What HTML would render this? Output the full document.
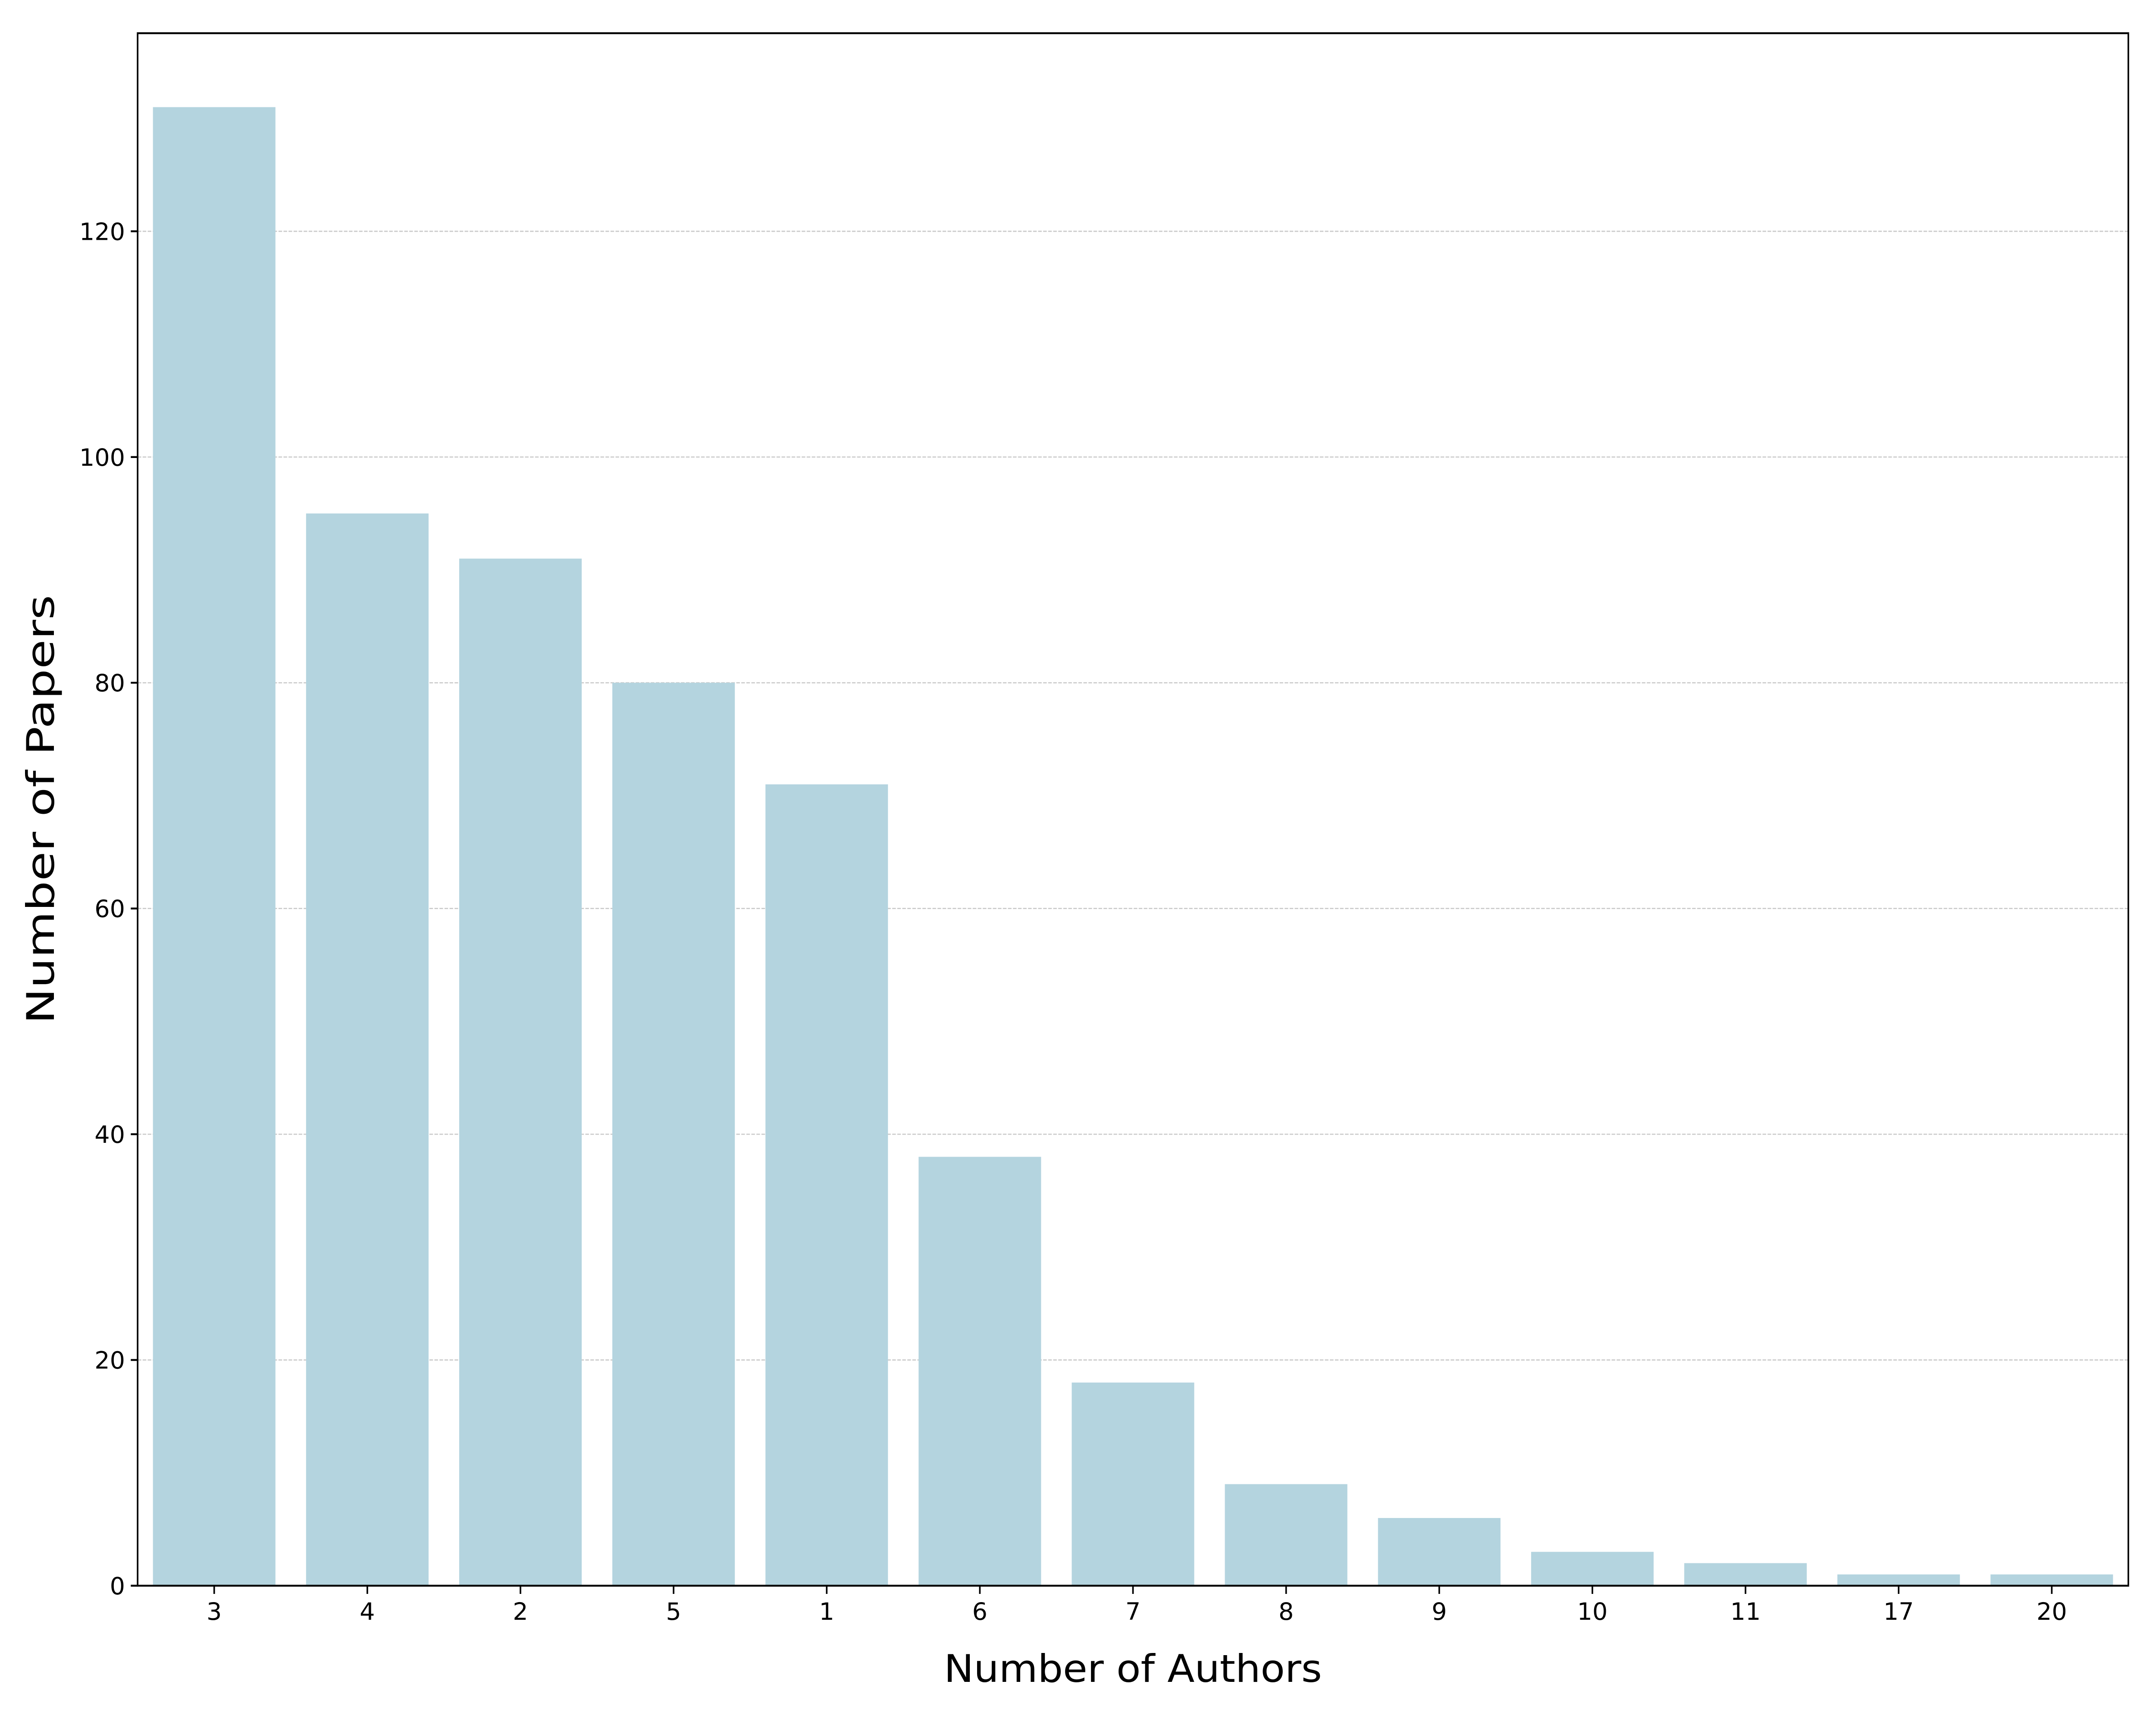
<!DOCTYPE html>
<html><head><meta charset="utf-8"><style>html,body{margin:0;padding:0;background:#fff;overflow:hidden;width:100%;height:100%}svg{display:block;width:100vw;height:100vh}text{font-family:"DejaVu Sans","Liberation Sans",sans-serif;fill:#000}</style></head>
<body>
<svg id="chart" viewBox="0 0 6000 4000" preserveAspectRatio="none" xmlns="http://www.w3.org/2000/svg">
<rect width="6000" height="4000" fill="#fff"/>
<g id="grid"></g><g id="bars"></g><g id="axes"></g>
</svg>
<script>
const categories = ["3","4","2","5","1","6","7","8","9","10","11","17","20"];
const values = [131,95,91,80,71,38,18,9,6,3,2,1,1];
const yTicks = [0,20,40,60,80,100,120];
const L=383,R=5923,T=77,B=3677,YMAX=137.55;
const NS="http://www.w3.org/2000/svg";
const vw=window.innerWidth||6000, vh=window.innerHeight||4000;
const K=(vh/4000)/(vw/6000); // horizontal compensation for text
const xs=i=>L+(i+0.5)*(R-L)/categories.length;
const ys=v=>B-v*(B-T)/YMAX;
const bw=0.8*(R-L)/categories.length;
function mk(tag,attrs,parent,txt){const e=document.createElementNS(NS,tag);for(const k in attrs)e.setAttribute(k,attrs[k]);if(txt!==undefined)e.textContent=txt;document.getElementById(parent).appendChild(e);return e;}
function txt(x,y,anchor,size,s,rot){
  const tr='translate('+x+','+y+') scale('+K+',1)'+(rot?' rotate(-90)':'');
  return mk('text',{x:0,y:0,'text-anchor':anchor,'font-size':size,transform:tr},'axes',s);
}
yTicks.forEach(t=>{
  if(t>0){const g=mk('line',{x1:L,x2:R,y1:ys(t),y2:ys(t),stroke:'#cccccc','stroke-width':2.8,'stroke-dasharray':'10 4'},'grid');
  
  }
  const tk=mk('line',{x1:L-19,x2:L,y1:ys(t),y2:ys(t),stroke:'#000','stroke-width':4.4},'axes');
  
  
  const lb=txt(L-35,ys(t)+20,'end',55.6,String(t));
  
  
});
categories.forEach((c,i)=>{
  const r=mk('rect',{x:xs(i)-bw/2,y:ys(values[i]),width:bw,height:B-ys(values[i]),fill:'#b4d4df'},'bars');
  
  
  const tk=mk('line',{x1:xs(i),x2:xs(i),y1:B,y2:B+19,stroke:'#000','stroke-width':4.4},'axes');
  
  
  const lb=txt(xs(i),B+79,'middle',55.6,c);
  
  
});
const fr=mk('rect',{x:L,y:T,width:R-L,height:B-T,fill:'none',stroke:'#000','stroke-width':4.4},'axes');


const xl=txt((L+R)/2,3900,'middle',88,'Number of Authors');
xl.setAttribute('textLength',String(1052/K));
xl.setAttribute('lengthAdjust','spacingAndGlyphs');


const yl=txt(150,(T+B)/2,'middle',88,'Number of Papers',true);
yl.setAttribute('textLength','995');
yl.setAttribute('lengthAdjust','spacingAndGlyphs');


</script>
</body></html>
